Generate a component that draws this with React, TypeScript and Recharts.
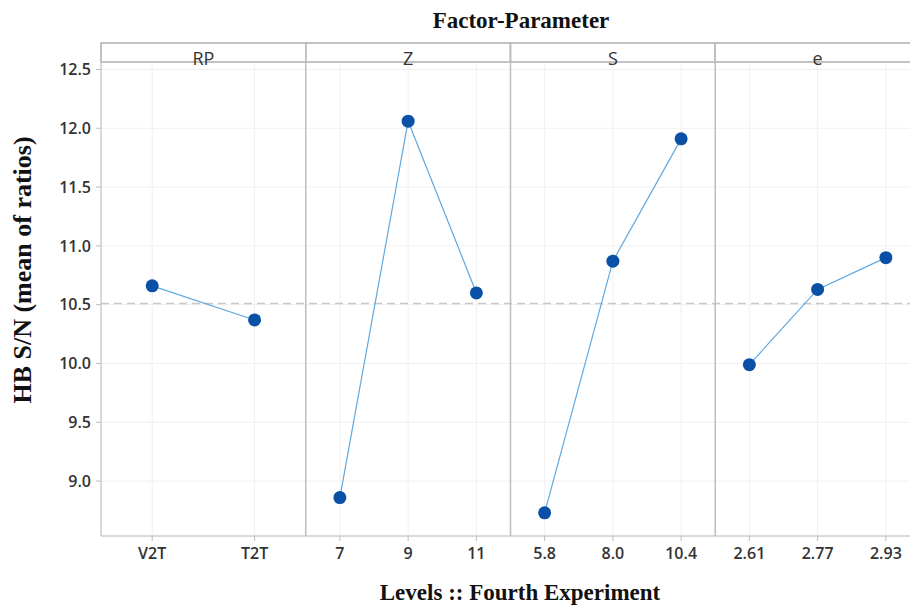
import React from "react"
import {
  LineChart,
  Line,
  XAxis,
  YAxis,
  CartesianGrid,
  ReferenceLine,
  ReferenceArea,
} from "recharts"

const factors = ["RP", "Z", "S", "e"]

const rpLevels = ["V2T", "T2T"]
const rpMeans = [10.66, 10.37]

const zLevels = ["7", "9", "11"]
const zMeans = [8.86, 12.06, 10.6]

const sLevels = ["5.8", "8.0", "10.4"]
const sMeans = [8.73, 10.87, 11.91]

const eLevels = ["2.61", "2.77", "2.93"]
const eMeans = [9.99, 10.63, 10.9]

const grandMean = 10.51
const yTicks = [9.0, 9.5, 10.0, 10.5, 11.0, 11.5, 12.0, 12.5]

const keys = ["rp", "z", "s", "e"]
const levelSets = [rpLevels, zLevels, sLevels, eLevels]
const meanSets = [rpMeans, zMeans, sMeans, eMeans]

// one row per level; panel p spans x in [p, p+1]
const rows: any[] = []
levelSets.forEach((levels, p) => {
  levels.forEach((lvl, i) => {
    const row: any = { x: p + (i + 0.5) / levels.length, label: lvl }
    row[keys[p]] = meanSets[p][i]
    rows.push(row)
  })
})
const xTicks = rows.map((r) => r.x)
const tickLabel = (v: number) => {
  const r = rows.find((d) => Math.abs(d.x - v) < 1e-6)
  return r ? r.label : ""
}

const Y_MIN = 8.533
const Y_MAX = 12.725
const STRIP_LOW = 12.564

const tickStyle = { fontFamily: "Open Sans", fontSize: 16, fill: "#333", fontWeight: 600 }

const stripLabel = (name: string) => (props: any) => {
  const vb = props.viewBox
  return (
    <text
      x={vb.x + vb.width / 2}
      y={vb.y + vb.height + 3}
      textAnchor="middle"
      fontFamily="Open Sans"
      fontSize={18}
      fill="#333"
    >
      {name}
    </text>
  )
}

export default function App() {
  return (
    <div style={{ position: "absolute", left: 0, top: 0, width: 910, height: 605, overflow: "hidden", background: "#fff" }}>
      <LineChart
        width={920}
        height={605}
        data={rows}
        margin={{ top: 43, right: 0, left: 41, bottom: 39 }}
      >
        <CartesianGrid stroke="#f0f0f0" />
        <XAxis
          dataKey="x"
          type="number"
          domain={[0, 4]}
          ticks={xTicks}
          tickFormatter={tickLabel}
          tick={tickStyle}
          tickSize={5}
          tickMargin={7}
          height={30}
          interval={0}
          stroke="#bdbdbd"
        />
        <YAxis
          type="number"
          domain={[Y_MIN, Y_MAX]}
          allowDataOverflow
          ticks={yTicks}
          tickFormatter={(v: number) => v.toFixed(1)}
          tick={tickStyle}
          tickSize={5}
          tickMargin={5}
          width={60}
          stroke="#bdbdbd"
        />
        <ReferenceLine y={grandMean} stroke="#c8c8c8" strokeWidth={1.5} strokeDasharray="8 5" />
        {factors.map((f, p) => (
          <ReferenceArea
            key={f}
            x1={p}
            x2={p + 1}
            y1={STRIP_LOW}
            y2={Y_MAX}
            fill="#fff"
            fillOpacity={1}
            stroke="#b0b0b0"
            strokeWidth={1.5}
            label={stripLabel(f)}
          />
        ))}
        {[1, 2, 3].map((x) => (
          <ReferenceLine key={x} x={x} stroke="#bdbdbd" strokeWidth={1.5} />
        ))}
        {keys.map((k) => (
          <Line
            key={k}
            dataKey={k}
            stroke="#5fa8e0"
            strokeWidth={1.2}
            connectNulls={false}
            dot={{ r: 6.5, fill: "#0a50a6", stroke: "#0a50a6", strokeWidth: 0 }}
            activeDot={false}
            isAnimationActive={false}
          />
        ))}
        <text x={521} y={28} textAnchor="middle" fontFamily="Liberation Serif" fontWeight="bold" fontSize={23} fill="#111">
          Factor-Parameter
        </text>
        <text x={520} y={600} textAnchor="middle" fontFamily="Liberation Serif" fontWeight="bold" fontSize={23} fill="#111">
          Levels :: Fourth Experiment
        </text>
        <text
          x={31}
          y={270}
          transform="rotate(-90 31 270)"
          textAnchor="middle"
          fontFamily="Liberation Serif"
          fontWeight="bold"
          fontSize={26}
          fill="#111"
        >
          HB S/N (mean of ratios)
        </text>
      </LineChart>
    </div>
  )
}
